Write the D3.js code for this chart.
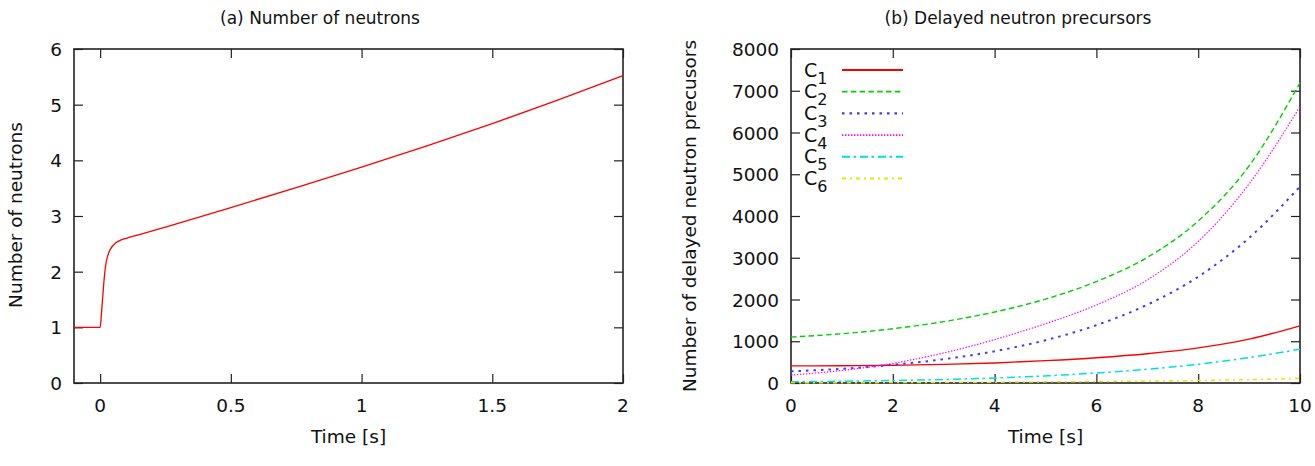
<!DOCTYPE html>
<html>
<head>
<meta charset="utf-8">
<script src="https://cdn.jsdelivr.net/npm/d3@7"></script>
<style>
  body { margin: 0; background: #fff; }
  svg { font-family: "DejaVu Sans", sans-serif; }
  .frame { fill: none; stroke: #222; stroke-width: 1.6; }
  .tick line { stroke: #222; stroke-width: 1.2; }
  .lbl { font-size: 18.5px; fill: #111; }
  .ttl { font-size: 17px; fill: #111; }
</style>
</head>
<body>
<div id="chart"></div>
<script>
// (a) number of neutrons
var neutronTime = [-0.1, 0, 0.005, 0.01, 0.015, 0.02, 0.03, 0.04, 0.06, 0.08, 0.1, 0.15, 0.25, 0.5, 0.75, 1, 1.25, 1.5, 1.75, 2];
var neutronCount = [1, 1, 1.25, 1.55, 1.85, 2.08, 2.3, 2.41, 2.52, 2.57, 2.6, 2.665, 2.8, 3.15, 3.51, 3.88, 4.26, 4.66, 5.08, 5.52];
var neutronXTicks = [0, 0.5, 1, 1.5, 2];
var neutronYTicks = [0, 1, 2, 3, 4, 5, 6];

// (b) delayed neutron precursors
var precTime = [0, 1, 2, 3, 4, 5, 6, 7, 8, 9, 10];
var c1 = [410, 414, 425, 445, 480, 535, 605, 700, 840, 1050, 1370];
var c2 = [1100, 1180, 1300, 1470, 1700, 2010, 2430, 3010, 3880, 5200, 7190];
var c3 = [280, 340, 435, 570, 760, 1025, 1385, 1875, 2545, 3475, 4705];
var c4 = [190, 300, 470, 720, 1040, 1420, 1870, 2470, 3390, 4770, 6620];
var c5 = [30, 42, 60, 85, 120, 170, 240, 330, 450, 610, 810];
var c6 = [5, 7, 10, 15, 20, 27, 35, 46, 60, 80, 112];
var precNames = ["1", "2", "3", "4", "5", "6"];
var precXTicks = [0, 2, 4, 6, 8, 10];
var precYTicks = [0, 1000, 2000, 3000, 4000, 5000, 6000, 7000, 8000];

var svg = d3.select("#chart").append("svg")
    .attr("width", 1315)
    .attr("height", 466);

function panel(opt) {
    var x = d3.scaleLinear().domain(opt.xDomain).range([opt.left, opt.right]);
    var y = d3.scaleLinear().domain(opt.yDomain).range([opt.bottom, opt.top]);
    var g = svg.append("g");
    var tl = 9;

    // gnuplot style: ticks on all four sides, pointing in
    g.append("g").attr("transform", "translate(0," + opt.bottom + ")")
        .call(d3.axisBottom(x).tickValues(opt.xTicks).tickSize(-tl).tickFormat(""))
        .call(function (a) { a.select(".domain").remove(); });
    g.append("g").attr("transform", "translate(0," + opt.top + ")")
        .call(d3.axisTop(x).tickValues(opt.xTicks).tickSize(-tl).tickFormat(""))
        .call(function (a) { a.select(".domain").remove(); });
    g.append("g").attr("transform", "translate(" + opt.left + ",0)")
        .call(d3.axisLeft(y).tickValues(opt.yTicks).tickSize(-tl).tickFormat(""))
        .call(function (a) { a.select(".domain").remove(); });
    g.append("g").attr("transform", "translate(" + opt.right + ",0)")
        .call(d3.axisRight(y).tickValues(opt.yTicks).tickSize(-tl).tickFormat(""))
        .call(function (a) { a.select(".domain").remove(); });

    g.selectAll(".xl").data(opt.xTicks).enter().append("text")
        .attr("class", "lbl")
        .attr("x", function (d) { return x(d); })
        .attr("y", opt.bottom + 29)
        .attr("text-anchor", "middle")
        .text(function (d) { return d; });
    g.selectAll(".yl").data(opt.yTicks).enter().append("text")
        .attr("class", "lbl")
        .attr("x", opt.left - 12)
        .attr("y", function (d) { return y(d) + 7; })
        .attr("text-anchor", "end")
        .text(function (d) { return d; });

    g.append("text").attr("class", "ttl")
        .attr("x", opt.titleX).attr("y", 24)
        .attr("text-anchor", "middle").text(opt.title);
    g.append("text").attr("class", "lbl")
        .attr("x", (opt.left + opt.right) / 2).attr("y", opt.bottom + 60)
        .attr("text-anchor", "middle").text("Time [s]");
    g.append("text").attr("class", "lbl")
        .attr("transform", "translate(" + opt.yLabelX + "," + opt.yLabelY + ") rotate(-90)")
        .attr("text-anchor", "middle").text(opt.yLabel);

    g.append("rect").attr("class", "frame")
        .attr("x", opt.left).attr("y", opt.top)
        .attr("width", opt.right - opt.left).attr("height", opt.bottom - opt.top);

    return { x: x, y: y, g: g };
}

// left panel
var pa = panel({
    xDomain: [-0.1, 2], yDomain: [0, 6],
    left: 74, right: 623, top: 49, bottom: 383,
    xTicks: neutronXTicks, yTicks: neutronYTicks,
    title: "(a) Number of neutrons", titleX: 320,
    yLabel: "Number of neutrons", yLabelX: 22, yLabelY: 215
});

var lineA = d3.line()
    .x(function (d, i) { return pa.x(neutronTime[i]); })
    .y(function (d) { return pa.y(d); })
    .curve(d3.curveMonotoneX);

pa.g.append("path")
    .datum(neutronCount)
    .attr("d", lineA)
    .attr("fill", "none")
    .attr("stroke", "#ff0000")
    .attr("stroke-width", 1.3);

// right panel
var pb = panel({
    xDomain: [0, 10], yDomain: [0, 8000],
    left: 791, right: 1300, top: 49, bottom: 383,
    xTicks: precXTicks, yTicks: precYTicks,
    title: "(b) Delayed neutron precursors", titleX: 1018,
    yLabel: "Number of delayed neutron precusors", yLabelX: 696, yLabelY: 216
});

var series = [c1, c2, c3, c4, c5, c6];
var colors = ["#ff0000", "#00d000", "#3a3aff", "#ff00ff", "#00e0e0", "#e6e600"];
var dashes = [null, "5.5,3.3", "2.5,5", "1.4,1.6", "8,3.5,2.5,4", "4,4,2,4"];
var widths = [1.4, 1.4, 2, 1.2, 1.5, 1.5];

var lineB = d3.line()
    .x(function (d, i) { return pb.x(precTime[i]); })
    .y(function (d) { return pb.y(d); })
    .curve(d3.curveMonotoneX);

pb.g.selectAll(".prec").data(series).enter().append("path")
    .attr("d", lineB)
    .attr("fill", "none")
    .attr("stroke", function (d, i) { return colors[i]; })
    .attr("stroke-width", function (d, i) { return widths[i]; })
    .attr("stroke-dasharray", function (d, i) { return dashes[i]; });

// legend
var leg = pb.g.selectAll(".leg").data(precNames).enter().append("g")
    .attr("transform", function (d, i) { return "translate(0," + (70 + i * 21.7) + ")"; });
leg.append("line")
    .attr("x1", 842).attr("x2", 903)
    .attr("stroke", function (d, i) { return colors[i]; })
    .attr("stroke-width", function (d, i) { return widths[i] + 0.4; })
    .attr("stroke-dasharray", function (d, i) { return dashes[i]; });
var lt = leg.append("text")
    .attr("x", 804).attr("y", 6.5)
    .style("font-size", "19px").style("fill", "#111");
lt.append("tspan").text("C");
lt.append("tspan").attr("dy", 7).style("font-size", "16px").text(function (d) { return d; });
</script>
</body>
</html>
